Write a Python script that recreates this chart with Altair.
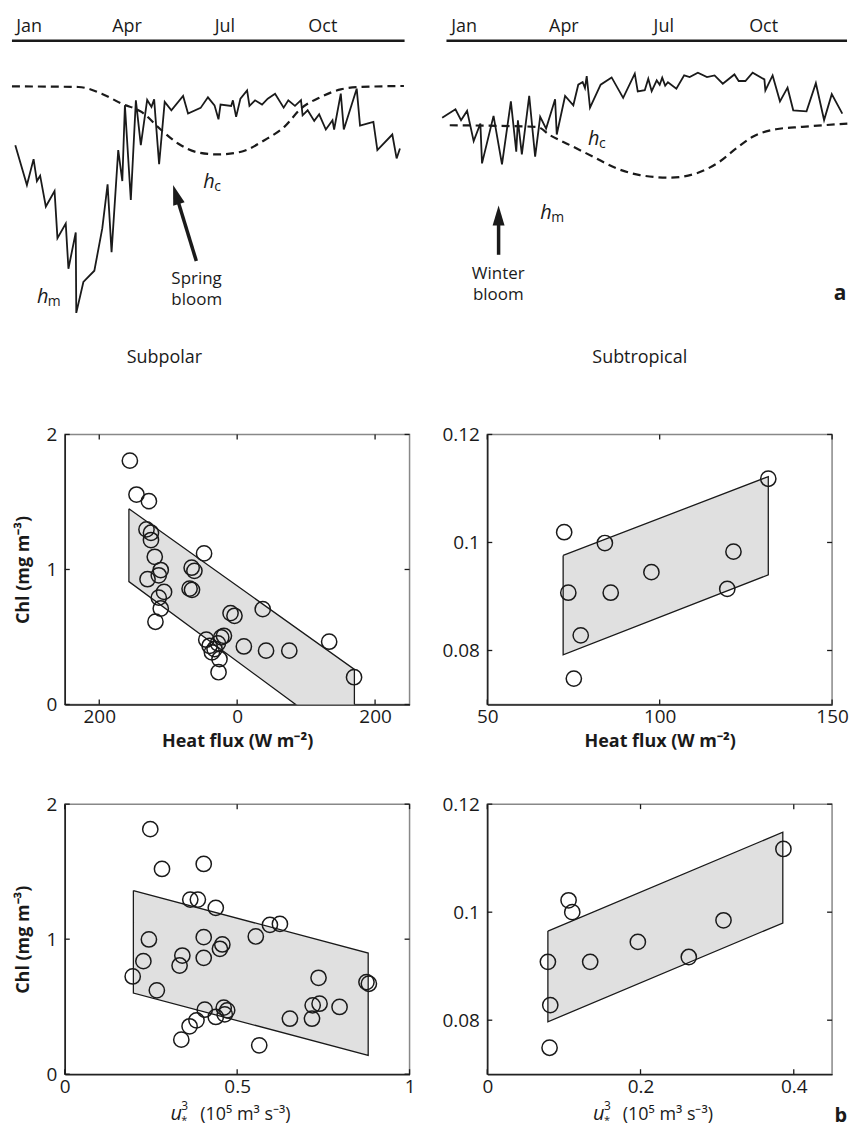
import math

import altair as alt
import pandas as pd

INK = "#1a1a1a"
FONT = "Open Sans"

# ---------------------------------------------------------------------------
# Seasonal cycle of mixed-layer depth h_m and critical depth h_c
# (day of year, depth below the surface line in plot units)
# ---------------------------------------------------------------------------
sp_hm_day = [3.1, 13.9, 20.1, 23.2, 26.2, 31.5, 39.6, 42.3, 50.0, 52.5, 59.3, 59.8,
             66.4, 76.6, 84.0, 88.9, 92.6, 98.8, 102.6, 105.0, 110.5, 115.2, 119.8,
             125.7, 129.7, 132.2, 133.4, 136.8, 142.0, 148.2, 159.1, 163.7, 175.4,
             182.2, 188.3, 192.0, 193.9, 203.8, 205.4, 208.4, 212.4, 218.6, 220.8,
             226.0, 232.5, 237.8, 244.6, 252.6, 256.9, 263.1, 268.7, 270.2, 274.9,
             281.0, 285.6, 291.8, 298.0, 299.5, 305.7, 308.5, 320.5, 323.6, 336.0,
             339.7, 353.6, 357.6, 360.7]
sp_hm_depth = [104.7, 144.7, 118.7, 140.7, 135.3, 166.3, 150.7, 198.0, 183.3, 228.7,
               192.3, 273.0, 242.0, 230.7, 188.0, 144.0, 212.0, 109.7, 140.7, 64.7,
               159.7, 59.7, 104.7, 59.3, 66.3, 58.7, 76.3, 123.7, 61.3, 69.7, 55.3,
               73.0, 67.3, 56.7, 64.7, 78.7, 64.0, 65.3, 59.7, 76.3, 58.0, 49.7, 65.3,
               59.7, 64.0, 58.0, 53.0, 67.0, 59.7, 65.3, 59.5, 74.7, 69.7, 80.3, 73.7,
               89.0, 79.7, 89.0, 53.0, 89.0, 48.0, 85.0, 81.3, 109.7, 94.0, 118.0,
               108.0]
sp_hc_day = [0.0, 61.8, 83.4, 101.9, 120.4, 139.0, 154.4, 173.0, 191.5, 213.1, 234.7,
             253.2, 268.7, 287.2, 305.7, 324.2, 364.4]
sp_hc_depth = [45.7, 46.3, 53.0, 63.0, 71.3, 89.7, 103.0, 112.0, 114.0, 111.3, 99.7,
               86.3, 68.0, 56.3, 48.7, 46.3, 45.3]

st_hm_day = [-3.9, 8.2, 13.3, 18.8, 24.8, 30.9, 32.4, 42.9, 50.6, 58.7, 63.6, 65.1,
             68.7, 75.4, 80.8, 85.4, 90.8, 99.0, 100.5, 108.1, 115.6, 120.1, 124.1,
             126.2, 127.8, 130.8, 140.5, 150.5, 161.0, 171.6, 174.3, 180.7, 183.9,
             187.0, 191.6, 194.3, 196.6, 199.3, 201.8, 209.5, 216.6, 221.6, 229.1,
             237.4, 244.3, 251.8, 262.4, 266.3, 272.4, 279.0, 289.7, 290.6, 297.2,
             303.9, 310.8, 316.0, 328.1, 336.6, 344.1, 351.1, 360.7]
st_hm_depth = [77.3, 68.7, 79.7, 70.3, 100.7, 83.0, 123.0, 75.3, 124.0, 60.7, 111.3,
               79.7, 114.0, 55.3, 116.3, 76.3, 88.0, 58.7, 94.0, 55.3, 64.7, 44.0,
               41.3, 47.3, 35.3, 67.0, 44.0, 36.7, 57.2, 33.0, 50.7, 49.5, 38.0, 50.5,
               39.7, 44.0, 37.0, 45.0, 41.5, 48.0, 34.7, 36.3, 32.0, 36.3, 34.7, 43.0,
               33.7, 40.3, 40.3, 32.0, 38.7, 49.7, 34.7, 60.7, 47.0, 69.7, 70.7, 42.5,
               79.5, 53.5, 73.0]
st_hc_day = [3.0, 82.4, 94.4, 112.6, 133.7, 155.0, 176.2, 203.4, 227.6, 248.8, 264.0,
             279.0, 300.3, 324.4, 365.3]
st_hc_depth = [84.7, 86.3, 94.7, 104.7, 116.3, 128.0, 134.7, 137.3, 133.0, 121.3,
               108.0, 96.3, 88.7, 86.3, 83.0]

month_names = ["Jan", "Apr", "Jul", "Oct"]
month_days = [16, 107, 198, 289]

# ---------------------------------------------------------------------------
# Monthly chlorophyll against forcing
# ---------------------------------------------------------------------------
sp_heat = [-155.6, -146, -128, -131.5, -125, -125, -119.5, -130, -110.8, -113.7, -106,
           -113.7, -110.8, -118.5, -48, -66, -62, -69, -65.5, -9.6, -3.9, 37.1, -44.8,
           -40, -36.6, -25.6, -27, -23.1, -19.2, -27.9, 9.7, 41.9, 75.6, 133.4, 169.5,
           -32.8]
sp_chl_heat = [1.806, 1.555, 1.506, 1.297, 1.272, 1.218, 1.094, 0.928, 0.996, 0.957,
               0.834, 0.792, 0.711, 0.613, 1.119, 1.013, 0.99, 0.858, 0.849, 0.677,
               0.657, 0.706, 0.480, 0.435, 0.386, 0.337, 0.239, 0.497, 0.509, 0.453,
               0.430, 0.399, 0.399, 0.465, 0.202, 0.411]

st_heat = [72.3, 84.1, 73.5, 85.8, 97.6, 121.4, 119.6, 131.5, 77.1, 75.1]
st_chl_heat = [0.1019, 0.0999, 0.0907, 0.0907, 0.0945, 0.0983, 0.0914, 0.1118, 0.0828,
               0.0748]

sp_u3 = [0.248, 0.282, 0.403, 0.364, 0.386, 0.438, 0.244, 0.228, 0.197, 0.267, 0.341,
         0.333, 0.403, 0.403, 0.457, 0.450, 0.554, 0.595, 0.624, 0.406, 0.438, 0.461,
         0.471, 0.464, 0.382, 0.362, 0.338, 0.564, 0.653, 0.717, 0.736, 0.719, 0.739,
         0.797, 0.875, 0.882]
sp_chl_u3 = [1.815, 1.520, 1.557, 1.293, 1.293, 1.232, 0.998, 0.837, 0.724, 0.621,
             0.879, 0.805, 1.015, 0.862, 0.961, 0.929, 1.020, 1.106, 1.113, 0.478,
             0.424, 0.493, 0.473, 0.443, 0.399, 0.355, 0.256, 0.214, 0.411, 0.411,
             0.714, 0.510, 0.522, 0.498, 0.682, 0.670]

st_u3 = [0.1061, 0.1109, 0.0791, 0.0822, 0.0813, 0.1343, 0.1965, 0.2630, 0.3083, 0.3865]
st_chl_u3 = [0.1022, 0.1000, 0.0908, 0.0828, 0.0749, 0.0908, 0.0945, 0.0917, 0.0985,
             0.1117]

# Regression bands: x extent, upper and lower edge at each end
band_sp_heat = {"x": [-157, 170], "up": [1.45, 0.26], "lo": [0.91, -0.32]}
band_st_heat = {"x": [72, 131.5], "up": [0.0976, 0.1122], "lo": [0.0792, 0.094]}
band_sp_u3 = {"x": [0.199, 0.880], "up": [1.360, 0.897], "lo": [0.601, 0.140]}
band_st_u3 = {"x": [0.0791, 0.3857], "up": [0.0965, 0.1148], "lo": [0.0797, 0.098]}

TOP_H = 295
PANEL_W = 346
PANEL_H = 271
HEAD_PATH = "M0,0L-0.6,2L0.6,2Z"


def season_panel(hm_day, hm_depth, hc_day, hc_depth, day0, width, notes, arrow,
                 bloom_lines, bloom_pos, bloom_align, letter=None):
    xs = alt.Scale(domain=[day0, 365], nice=False, zero=False)
    ys = alt.Scale(domain=[0, TOP_H], reverse=True, nice=False, zero=False)
    px_per_day = width / (365 - day0)

    def X(f):
        return alt.X(f, type="quantitative", scale=xs, axis=None)

    def Y(f):
        return alt.Y(f, type="quantitative", scale=ys, axis=None)

    hm = alt.Chart(pd.DataFrame({"day": hm_day, "depth": hm_depth,
                                 "i": list(range(len(hm_day)))})).mark_line(
        color=INK, strokeWidth=1.8, strokeJoin="miter").encode(
        x=X("day"), y=Y("depth"), order="i:Q")
    hc = alt.Chart(pd.DataFrame({"day": hc_day, "depth": hc_depth})).mark_line(
        color=INK, strokeWidth=2.2, strokeDash=[8, 5], interpolate="monotone").encode(
        x=X("day"), y=Y("depth"))
    year_rule = alt.Chart(pd.DataFrame({"a": [0], "b": [365]})).mark_rule(
        color=INK, strokeWidth=2.5).encode(x=X("a"), x2="b", y=alt.value(0))
    months = alt.Chart(pd.DataFrame({"m": month_names, "day": month_days})).mark_text(
        font=FONT, fontSize=18, color=INK, baseline="alphabetic").encode(
        x=X("day"), y=alt.value(-9), text="m:N")

    # italic h with its subscript
    main = pd.DataFrame({"t": ["h"] * len(notes), "day": [n[0] for n in notes],
                         "depth": [n[1] for n in notes]})
    sub = pd.DataFrame({"t": [n[2] for n in notes], "day": [n[0] for n in notes],
                        "depth": [n[1] for n in notes]})
    h_txt = alt.Chart(main).mark_text(font=FONT, fontSize=20, fontStyle="italic",
                                      color=INK, align="left", baseline="alphabetic").encode(
        x=X("day"), y=Y("depth"), text="t:N")
    sub_txt = alt.Chart(sub).mark_text(font=FONT, fontSize=14, color=INK, align="left",
                                       baseline="alphabetic", dx=11, dy=3).encode(
        x=X("day"), y=Y("depth"), text="t:N")

    # arrow: shaft ends just inside the head, head drawn with its tip at the origin
    (tail_day, tail_depth), (tip_day, tip_depth) = arrow
    dx = (tail_day - tip_day) * px_per_day
    dy = tail_depth - tip_depth
    length = math.hypot(dx, dy)
    inset = 12
    end_day = tip_day + dx / length * inset / px_per_day
    end_depth = tip_depth + dy / length * inset
    angle = math.degrees(math.atan2(-dx, dy)) % 360
    shaft = alt.Chart(pd.DataFrame({"d0": [tail_day], "z0": [tail_depth], "d1": [end_day],
                                    "z1": [end_depth]})).mark_rule(
        color=INK, strokeWidth=3.5).encode(x=X("d0"), y=Y("z0"), x2="d1", y2="z1")
    head = alt.Chart(pd.DataFrame({"day": [tip_day], "depth": [tip_depth]})).mark_point(
        shape=HEAD_PATH, filled=True, size=400, angle=angle, color=INK, opacity=1,
        strokeWidth=0).encode(x=X("day"), y=Y("depth"))

    # two-line caption under the arrow
    bloom = alt.Chart(pd.DataFrame({"t": ["\n".join(bloom_lines)], "day": [bloom_pos[0]],
                                    "depth": [bloom_pos[1]]})).mark_text(
        font=FONT, fontSize=17, color=INK, align=bloom_align, baseline="alphabetic",
        lineBreak="\n", lineHeight=21).encode(x=X("day"), y=Y("depth"), text="t:N")

    layers = [year_rule, months, hc, hm, h_txt, sub_txt, shaft, head, bloom]
    if letter is not None:
        layers.append(alt.Chart(pd.DataFrame({"t": [letter[0]], "day": [letter[1]],
                                              "depth": [letter[2]]})).mark_text(
            font=FONT, fontSize=21, fontWeight="bold", color=INK, align="right",
            baseline="alphabetic").encode(x=X("day"), y=Y("depth"), text="t:N"))
    return alt.layer(*layers).properties(
        width=width, height=TOP_H, view=alt.ViewBackground(stroke="transparent"))


def scatter_panel(xv, yv, band, xdom, ydom, xticks, yticks, x_axis, y_title,
                  extras=()):
    xs = alt.Scale(domain=xdom, nice=False, zero=False)
    ys = alt.Scale(domain=ydom, nice=False, zero=False)
    y_axis = alt.Axis(values=yticks, labelExpr="toString(datum.value)", labelPadding=8,
                      labelFlush=False, title=y_title, titlePadding=14)

    # every layer carries the same axis settings so that they merge cleanly
    def X(f):
        return alt.X(f, type="quantitative", scale=xs, axis=x_axis)

    def Y(f):
        return alt.Y(f, type="quantitative", scale=ys, axis=y_axis)

    area = alt.Chart(pd.DataFrame(band)).mark_area(color="#e0e0e0", opacity=1,
                                                   clip=True).encode(
        x=X("x"), y=Y("up"), y2="lo:Q")
    x0, x1 = band["x"]
    outline_df = pd.DataFrame({"x": [x0, x1, x1, x0, x0],
                               "up": [band["up"][0], band["up"][1], band["lo"][1],
                                      band["lo"][0], band["up"][0]],
                               "o": [0, 1, 2, 3, 4]})
    outline = alt.Chart(outline_df).mark_line(color=INK, strokeWidth=1.3, clip=True).encode(
        x=X("x"), y=Y("up"), order="o:Q")

    xt = alt.Chart(pd.DataFrame({"x": xticks}))
    yt = alt.Chart(pd.DataFrame({"up": yticks}))
    tick_style = dict(color=INK, strokeWidth=1.3)
    ticks = [
        xt.mark_rule(**tick_style).encode(x=X("x"), y=alt.value(0), y2=alt.value(5)),
        xt.mark_rule(**tick_style).encode(x=X("x"), y=alt.value(PANEL_H - 5),
                                          y2=alt.value(PANEL_H)),
        yt.mark_rule(**tick_style).encode(y=Y("up"), x=alt.value(0), x2=alt.value(5)),
        yt.mark_rule(**tick_style).encode(y=Y("up"), x=alt.value(PANEL_W - 5),
                                          x2=alt.value(PANEL_W)),
    ]
    pts = alt.Chart(pd.DataFrame({"x": xv, "up": yv})).mark_point(
        shape="circle", filled=False, size=235, strokeWidth=1.5, color=INK,
        opacity=1).encode(x=X("x"), y=Y("up"))
    return alt.layer(area, outline, *ticks, pts, *extras).properties(
        width=PANEL_W, height=PANEL_H)


def free_text(text, x, y, **style):
    opts = dict(font=FONT, fontSize=18, color=INK, align="left", baseline="alphabetic")
    opts.update(style)
    return alt.Chart(pd.DataFrame({"t": [text]})).mark_text(**opts).encode(
        x=alt.value(x), y=alt.value(y), text="t:N")


def u3_title():
    return [
        free_text("u", 106, 317, fontStyle="italic", fontSize=20),
        free_text("3", 117, 307, fontSize=12),
        free_text("*", 117, 321, fontSize=11),
        free_text("(10\u2075 m\u00b3 s\u207b\u00b3)", 136, 317),
    ]


heat_title = "Heat flux (W m\u207b\u00b2)"
chl_title = "Chl (mg m\u207b\u00b3)"

top_left = season_panel(
    sp_hm_day, sp_hm_depth, sp_hc_day, sp_hc_depth, day0=49.1, width=341,
    notes=[(23.2, 263, "m"), (177.9, 148, "c")],
    arrow=((171.4, 221.0), (149.8, 144.7)),
    bloom_lines=["Spring", "bloom"], bloom_pos=(148.2, 244), bloom_align="left")
top_right = season_panel(
    st_hm_day, st_hm_depth, st_hc_day, st_hc_depth, day0=37.2, width=361,
    notes=[(85.4, 179, "m"), (128.9, 105, "c")],
    arrow=((47.5, 214.7), (47.5, 165.3)),
    bloom_lines=["Winter", "bloom"], bloom_pos=(47.2, 239), bloom_align="center",
    letter=("a", 364.5, 260))

mid_left = scatter_panel(
    sp_heat, sp_chl_heat, band_sp_heat, [-250, 250], [0, 2], [-200, 0, 200], [0, 1, 2],
    alt.Axis(values=[-200, 0, 200], labelExpr="toString(abs(datum.value))",
             labelPadding=3, labelFlush=False, title=heat_title, titlePadding=6),
    chl_title, extras=[free_text("Subpolar", 100, -72, align="center")])
mid_right = scatter_panel(
    st_heat, st_chl_heat, band_st_heat, [50, 150], [0.07, 0.12], [50, 100, 150],
    [0.08, 0.1, 0.12],
    alt.Axis(values=[50, 100, 150], labelExpr="toString(datum.value)", labelPadding=3,
             labelFlush=False, title=heat_title, titlePadding=6),
    "", extras=[free_text("Subtropical", 153, -72, align="center")])
bot_left = scatter_panel(
    sp_u3, sp_chl_u3, band_sp_u3, [0, 1], [0, 2], [0, 0.5, 1], [0, 1, 2],
    alt.Axis(values=[0, 0.5, 1], labelExpr="toString(datum.value)", labelPadding=3,
             labelFlush=False, title=""),
    chl_title, extras=u3_title())
bot_right = scatter_panel(
    st_u3, st_chl_u3, band_st_u3, [0, 0.45], [0.07, 0.12], [0, 0.2, 0.4],
    [0.08, 0.1, 0.12],
    alt.Axis(values=[0, 0.2, 0.4], labelExpr="toString(datum.value)", labelPadding=3,
             labelFlush=False, title=""),
    "", extras=u3_title() + [free_text("b", 361, 319, fontSize=20, fontWeight="bold",
                                       align="right")])

chart = alt.concat(
    top_left, top_right, mid_left, mid_right, bot_left, bot_right,
    columns=2, bounds="flush", align="each", spacing={"row": 100, "column": 78},
    padding={"left": 6, "top": 15, "right": 0, "bottom": 0},
).configure(font=FONT).configure_axis(
    labelFont=FONT, titleFont=FONT, labelColor=INK, titleColor=INK, grid=False,
    ticks=False, domainColor="#222", domainWidth=1.5, labelFontSize=19,
    titleFontSize=18, titleFontWeight="bold",
).configure_view(stroke="#888", strokeWidth=1.5)

chart.save("out.html", embed_options={"renderer": "svg", "actions": False})
